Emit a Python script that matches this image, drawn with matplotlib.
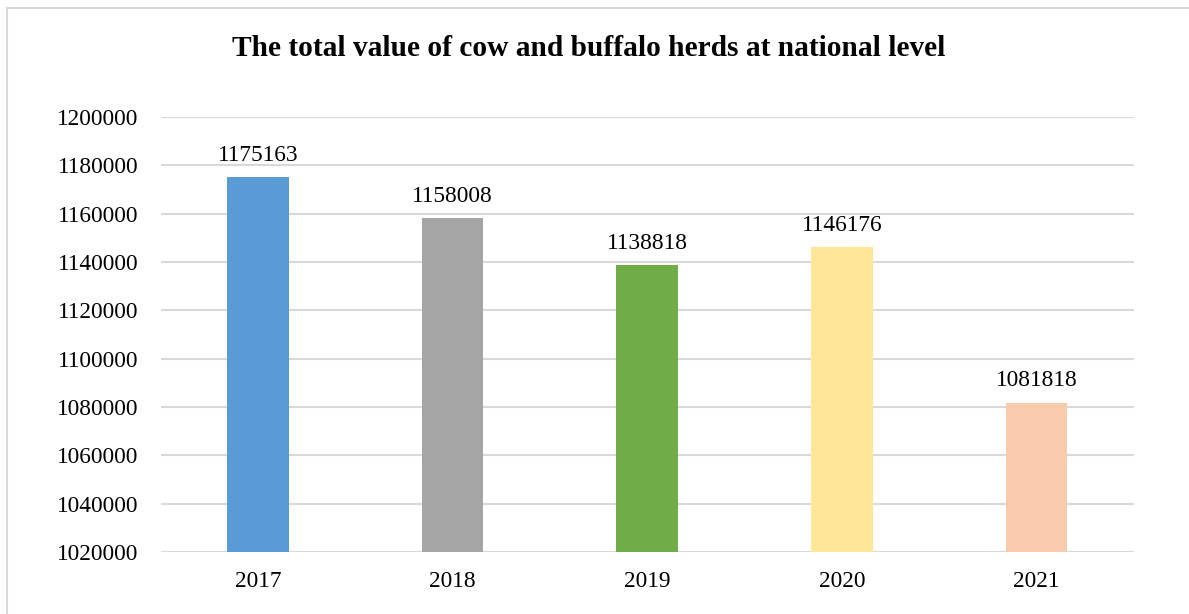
import matplotlib
matplotlib.use('Agg')
import matplotlib.pyplot as plt
from matplotlib.patches import Rectangle

years = ['2017', '2018', '2019', '2020', '2021']
herd_values = [1175163, 1158008, 1138818, 1146176, 1081818]
bar_colors = ['#5B9BD5', '#A5A5A5', '#70AD47', '#FFE699', '#F8CBAD']
y_ticks = list(range(1020000, 1200001, 20000))

plt.rcParams['font.family'] = ['Liberation Serif', 'DejaVu Serif']

W, H = 1189, 614
fig = plt.figure(figsize=(W / 100, H / 100), dpi=100)

# light frame round the chart, open on the right and bottom
fig.patches.append(Rectangle((7 / W, -0.1), 1.2, (H - 8) / H + 0.1,
                             transform=fig.transFigure, fill=False,
                             edgecolor='#D9D9D9', linewidth=1.5))

ax = fig.add_axes([160.7 / W, 1 - 552 / H, 973 / W, (552 - 117) / H])
x = range(len(years))
bars = ax.bar(x, herd_values, width=0.317, color=bar_colors, zorder=3)

ax.set_ylim(1020000, 1200000)
ax.set_xlim(-0.5, len(years) - 0.5)
ax.set_yticks(y_ticks)
ax.set_yticklabels([str(v) for v in y_ticks])
ax.set_xticks(list(x))
ax.set_xticklabels(years)
ax.tick_params(axis='both', length=0, labelsize=16.8, colors='#000000')
ax.tick_params(axis='y', pad=16)
ax.tick_params(axis='x', pad=14)
ax.grid(axis='y', color='#D9D9D9', linewidth=1.5, zorder=0)
for s in ax.spines.values():
    s.set_visible(False)

for b, v in zip(bars, herd_values):
    ax.annotate(str(v), (b.get_x() + b.get_width() / 2, v),
                xytext=(0, 8), textcoords='offset points',
                ha='center', va='bottom', fontsize=16.8)

fig.text(589 / W, 1 - 49 / H, 'The total value of cow and buffalo herds at national level',
         ha='center', va='center', fontsize=21.2, fontweight='bold')

fig.savefig('out.png', dpi=100)
